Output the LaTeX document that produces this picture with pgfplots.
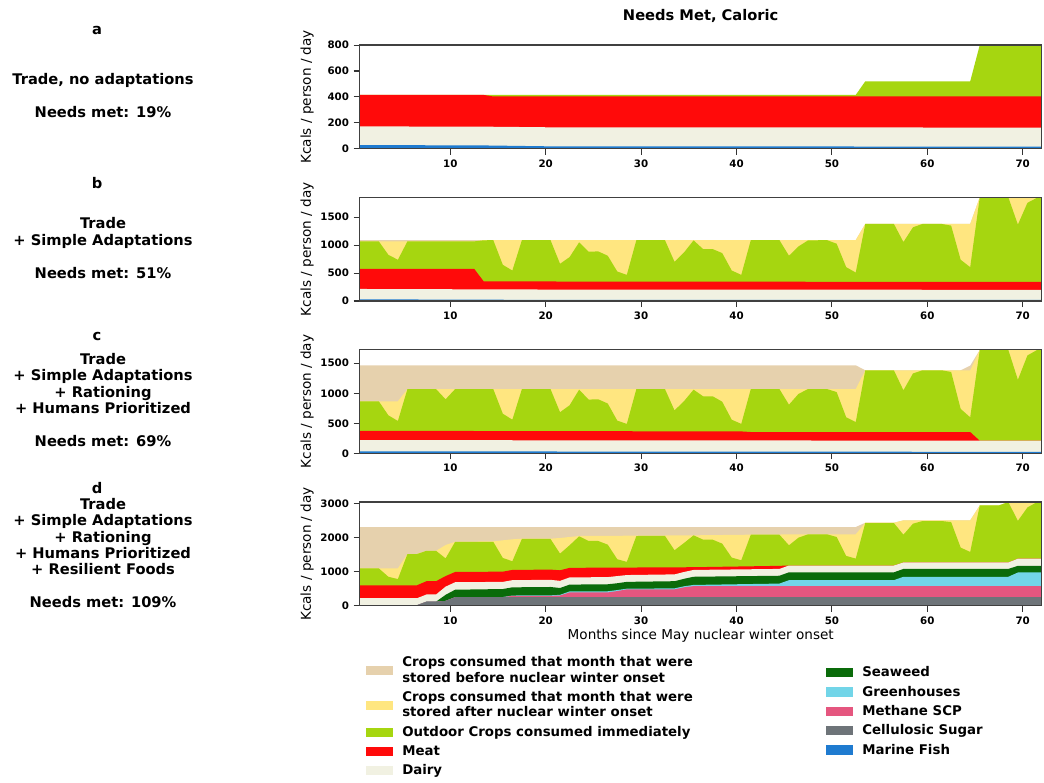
\documentclass[border=0pt]{standalone}
\usepackage{pgfplots}
\pgfplotsset{compat=1.18}
\usepackage{fontspec}
\setmainfont{DejaVu Sans}

\definecolor{before}{HTML}{E6D1AD}
\definecolor{after}{HTML}{FFE680}
\definecolor{outdoor}{HTML}{A6D610}
\definecolor{meat}{HTML}{FF0A0A}
\definecolor{dairy}{HTML}{F1F1E2}
\definecolor{seaweed}{HTML}{0A6B0A}
\definecolor{greenh}{HTML}{72D5E8}
\definecolor{scp}{HTML}{E5567F}
\definecolor{sugar}{HTML}{6E7479}
\definecolor{fish}{HTML}{1F7BD0}

\pgfplotsset{
  panel/.style={
    scale only axis, width=511.5pt, height=77.7pt,
    xmin=0.5, xmax=72, ymin=0,
    xtick={10,20,...,70},
    axis on top,
    axis line style={draw=black!75, line width=1pt},
    tick style={draw=black!80, line width=0.8pt},
    tick align=outside, major tick length=4.5pt,
    xtick pos=bottom, ytick pos=left,
    /pgf/number format/assume math mode=true,
    /pgf/number format/1000 sep={},
    tick label style={font=\bfseries\fontsize{7.7}{9}\selectfont},
    ylabel={Kcals / person / day},
    ylabel style={at={(axis description cs:-0.0773,0.5)}, anchor=center,
      font=\fontsize{10.2}{12}\selectfont},
  },
  layer/.style={fill=#1, draw=none},
  swatch/.style={legend image code/.code={\fill[##1, draw=none] (0pt,-3.4pt) rectangle (20pt,3.4pt);}},
  keybox/.style={
    hide axis, scale only axis, width=511.5pt, height=77.7pt,
    xmin=0, xmax=1, ymin=0, ymax=1,
    legend cell align=left,
    legend style={draw=none, fill=none, inner sep=0pt, row sep=3.4pt,
      font=\bfseries\fontsize{10}{11.6}\selectfont,
      nodes={inner sep=1pt, align=left},
      /tikz/every odd column/.append style={column sep=6pt}},
  },
}

\begin{document}
\begin{tikzpicture}
\useasboundingbox (0pt,0pt) rectangle (783pt,-586.5pt);

% ---------------- a: trade, no adaptations ----------------
\begin{axis}[panel, at={(269.8pt,-111.5pt)}, anchor=south west,
  ymax=800, ytick={0,200,400,600,800}]
\addplot[layer=outdoor] coordinates {(0.5,415)(52.5,415)(53.5,520)(64.5,520)(65.5,800)(72,800)} \closedcycle;
\addplot[layer=meat] coordinates {(0.5,415)(13.5,415)(14.5,403)(72,403)} \closedcycle;
\addplot[layer=dairy] coordinates {(0.5,172)(13.5,170)(20.5,165)(72,163)} \closedcycle;
\addplot[layer=fish] coordinates {(0.5,28)(13.5,25)(20.5,18)(72,16)} \closedcycle;
\end{axis}

% ---------------- b: + simple adaptations ----------------
\begin{axis}[panel, at={(269.8pt,-225.75pt)}, anchor=south west,
  ymax=1852, ytick={0,500,1000,1500}]
\addplot[layer=before] coordinates {(0.5,1090)(12.5,1090)(13.5,1090)(52.5,1090)(53.5,1378)(64.5,1378)(65.5,1852)(72,1852)} \closedcycle;
\addplot[layer=after] coordinates {(0.5,1066)(12.5,1066)(13.5,1088)(52.5,1088)(53.5,1378)(64.5,1378)(65.5,1852)(72,1852)} \closedcycle;
\addplot[layer=outdoor] coordinates {(0.5,1066)(2.5,1066)(3.5,826)(4.5,737)(5.5,1066)(12.5,1066)(13.5,1085)(14.5,1088)(15.5,647)(16.5,545)(17.5,1088)(20.5,1088)(21.5,665)(22.5,785)(23.5,1048)(24.5,881)(25.5,887)(26.5,809)(27.5,527)(28.5,467)(29.5,1088)(32.5,1088)(33.5,701)(34.5,869)(35.5,1084)(36.5,928)(37.5,928)(38.5,857)(39.5,545)(40.5,467)(41.5,1088)(44.5,1088)(45.5,809)(46.5,976)(47.5,1084)(49.5,1088)(50.5,1024)(51.5,605)(52.5,509)(53.5,1378)(56.5,1378)(57.5,1054)(58.5,1318)(59.5,1378)(61.5,1378)(62.5,1348)(63.5,737)(64.5,605)(65.5,1852)(68.5,1852)(69.5,1366)(70.5,1755)(71.5,1845)(72,1852)} \closedcycle;
\addplot[layer=meat] coordinates {(0.5,575)(12.5,575)(13.5,350)(72,340)} \closedcycle;
\addplot[layer=dairy] coordinates {(0.5,215)(20.5,205)(72,200)} \closedcycle;
\addplot[layer=fish] coordinates {(0.5,30)(20.5,20)(72,18)} \closedcycle;
\end{axis}

% ---------------- c: + rationing, humans prioritized ----------------
\begin{axis}[panel, at={(269.8pt,-340pt)}, anchor=south west,
  ymax=1725, ytick={0,500,1000,1500}]
\addplot[layer=before] coordinates {(0.5,1466)(52.5,1466)(53.5,1383)(63.5,1383)(64.5,1460)(65.5,1720)(72,1720)} \closedcycle;
\addplot[layer=after] coordinates {(0.5,867)(4.5,867)(5.5,1070)(52.5,1070)(53.5,1383)(64.5,1383)(65.5,1720)(72,1720)} \closedcycle;
\addplot[layer=outdoor] coordinates {(0.5,867)(2.5,867)(3.5,633)(4.5,539)(5.5,1070)(8.5,1070)(9.5,900)(10.5,1070)(14.5,1070)(15.5,660)(16.5,560)(17.5,1070)(20.5,1070)(21.5,685)(22.5,800)(23.5,1060)(24.5,895)(25.5,900)(26.5,830)(27.5,545)(28.5,490)(29.5,1070)(32.5,1070)(33.5,715)(34.5,870)(35.5,1060)(36.5,950)(37.5,950)(38.5,860)(39.5,560)(40.5,490)(41.5,1070)(44.5,1070)(45.5,810)(46.5,990)(47.5,1070)(49.5,1070)(50.5,1020)(51.5,600)(52.5,520)(53.5,1383)(56.5,1383)(57.5,1050)(58.5,1330)(59.5,1383)(61.5,1383)(62.5,1355)(63.5,740)(64.5,600)(65.5,1720)(68.5,1720)(69.5,1225)(70.5,1630)(71.5,1720)(72,1720)} \closedcycle;
\addplot[layer=meat] coordinates {(0.5,375)(40.5,365)(41.5,355)(64.5,355)(65.5,210)(72,210)} \closedcycle;
\addplot[layer=dairy] coordinates {(0.5,220)(40.5,215)(72,210)} \closedcycle;
\addplot[layer=fish] coordinates {(0.5,33)(72,25)} \closedcycle;
\end{axis}

% ---------------- d: + resilient foods ----------------
\begin{axis}[panel, at={(269.8pt,-454.3pt)}, anchor=south west,
  ymax=3038, ytick={0,1000,2000,3000},
  xlabel={Months since May nuclear winter onset},
  xlabel style={font=\fontsize{10.2}{12}\selectfont, at={(axis description cs:0.5,-0.29)}, anchor=center}]
\addplot[layer=before] coordinates {(0.5,2308)(52.5,2308)(53.5,2435)(56.5,2435)(57.5,2503)(64.5,2503)(65.5,2941)(67.5,2941)(68.5,3038)(72,3038)} \closedcycle;
\addplot[layer=after] coordinates {(0.5,1096)(4.5,1096)(5.5,1515)(6.5,1515)(7.5,1611)(8.5,1611)(9.5,1780)(10.5,1875)(14.5,1890)(15.5,1919)(16.5,1948)(17.5,1967)(20.5,1967)(21.5,1987)(22.5,2016)(23.5,2045)(35.5,2065)(41.5,2084)(47.5,2094)(52.5,2094)(53.5,2435)(56.5,2435)(57.5,2503)(64.5,2503)(65.5,2941)(67.5,2941)(68.5,3038)(72,3038)} \closedcycle;
\addplot[layer=outdoor] coordinates {(0.5,1096)(2.5,1096)(3.5,850)(4.5,782)(5.5,1515)(6.5,1515)(7.5,1611)(8.5,1611)(9.5,1389)(10.5,1875)(14.5,1875)(15.5,1402)(16.5,1305)(17.5,1958)(20.5,1958)(21.5,1529)(22.5,1773)(23.5,2036)(24.5,1899)(25.5,1899)(26.5,1792)(27.5,1364)(28.5,1286)(29.5,2045)(32.5,2050)(33.5,1627)(34.5,1841)(35.5,2065)(36.5,1938)(37.5,1938)(38.5,1821)(39.5,1412)(40.5,1334)(41.5,2084)(44.5,2084)(45.5,1773)(46.5,1997)(47.5,2094)(49.5,2094)(50.5,2016)(51.5,1461)(52.5,1383)(53.5,2425)(56.5,2425)(57.5,2084)(58.5,2406)(59.5,2484)(61.5,2484)(62.5,2454)(63.5,1705)(64.5,1578)(65.5,2941)(67.5,2941)(68.5,3038)(69.5,2490)(70.5,2883)(71.5,3038)(72,3038)} \closedcycle;
\addplot[layer=meat] coordinates {(0.5,600)(6.5,600)(7.5,720)(8.5,720)(9.5,870)(10.5,990)(15.5,1000)(16.5,1050)(20.5,1060)(21.5,1040)(22.5,1110)(26.5,1120)(28.5,1120)(35.5,1130)(44.5,1170)(45.5,1180)(56.5,1180)(57.5,1270)(68.5,1270)(69.5,1380)(72,1380)} \closedcycle;
\addplot[layer=dairy] coordinates {(0.5,220)(6.5,220)(7.5,330)(8.5,330)(9.5,560)(10.5,690)(15.5,700)(16.5,750)(20.5,760)(21.5,730)(22.5,830)(26.5,840)(27.5,870)(28.5,900)(33.5,920)(34.5,990)(35.5,1050)(44.5,1080)(45.5,1180)(56.5,1180)(57.5,1270)(68.5,1270)(69.5,1380)(72,1380)} \closedcycle;
\addplot[layer=seaweed] coordinates {(0.5,15)(6.5,15)(7.5,120)(8.5,120)(9.5,320)(10.5,470)(15.5,490)(16.5,540)(20.5,550)(21.5,520)(22.5,620)(26.5,630)(27.5,660)(28.5,700)(33.5,720)(34.5,790)(35.5,850)(44.5,880)(45.5,980)(56.5,980)(57.5,1080)(68.5,1080)(69.5,1170)(72,1170)} \closedcycle;
\addplot[layer=greenh] coordinates {(0.5,15)(6.5,15)(7.5,120)(8.5,120)(9.5,140)(10.5,250)(15.5,255)(16.5,300)(20.5,305)(21.5,320)(22.5,420)(26.5,425)(27.5,460)(28.5,500)(33.5,510)(34.5,570)(35.5,610)(44.5,650)(45.5,750)(56.5,750)(57.5,850)(68.5,850)(69.5,975)(72,975)} \closedcycle;
\addplot[layer=scp] coordinates {(0.5,15)(6.5,15)(7.5,120)(8.5,120)(9.5,140)(10.5,250)(15.5,250)(16.5,290)(20.5,290)(21.5,300)(22.5,390)(26.5,390)(27.5,430)(28.5,480)(33.5,480)(34.5,540)(35.5,575)(72,575)} \closedcycle;
\addplot[layer=sugar] coordinates {(0.5,15)(6.5,15)(7.5,120)(8.5,120)(9.5,140)(10.5,250)(72,250)} \closedcycle;
\addplot[layer=fish] coordinates {(0.5,15)(72,12)} \closedcycle;
\end{axis}

% ---------------- key, left column ----------------
\begin{axis}[keybox, at={(269.8pt,-454.3pt)}, anchor=south west,
  legend style={at={(axis description cs:0.0092,-0.475)}, anchor=north west}]
\addlegendimage{swatch, fill=before}
\addlegendentry{Crops consumed that month that were\\stored before nuclear winter onset}
\addlegendimage{swatch, fill=after}
\addlegendentry{Crops consumed that month that were\\stored after nuclear winter onset}
\addlegendimage{swatch, fill=outdoor}
\addlegendentry{Outdoor Crops consumed immediately}
\addlegendimage{swatch, fill=meat}
\addlegendentry{Meat}
\addlegendimage{swatch, fill=dairy}
\addlegendentry{Dairy}
\end{axis}

% ---------------- key, right column ----------------
\begin{axis}[keybox, at={(269.8pt,-454.3pt)}, anchor=south west,
  legend style={at={(axis description cs:0.6837,-0.572)}, anchor=north west}]
\addlegendimage{swatch, fill=seaweed}
\addlegendentry{Seaweed}
\addlegendimage{swatch, fill=greenh}
\addlegendentry{Greenhouses}
\addlegendimage{swatch, fill=scp}
\addlegendentry{Methane SCP}
\addlegendimage{swatch, fill=sugar}
\addlegendentry{Cellulosic Sugar}
\addlegendimage{swatch, fill=fish}
\addlegendentry{Marine Fish}
\end{axis}

% ---------------- titles and scenario descriptions ----------------
\begin{scope}[x=0.75pt, y=-0.75pt, every node/.style={font=\bfseries\fontsize{11}{13}\selectfont, inner sep=0pt}]
\node[anchor=base] at (700.7,20) {Needs Met, Caloric};
\node[anchor=base] at (97,34) {a};
\node[anchor=base] at (103,84) {Trade, no adaptations};
\node[anchor=base] at (103,117.5) {Needs met: 19\%};
\node[anchor=base] at (97,188) {b};
\node[anchor=base] at (103,228) {Trade};
\node[anchor=base] at (103,245) {+ Simple Adaptations};
\node[anchor=base] at (103,278) {Needs met: 51\%};
\node[anchor=base] at (97,340) {c};
\node[anchor=base] at (103,364) {Trade};
\node[anchor=base] at (103,380.5) {+ Simple Adaptations};
\node[anchor=base] at (103,397) {+ Rationing};
\node[anchor=base] at (103,413) {+ Humans Prioritized};
\node[anchor=base] at (103,446) {Needs met: 69\%};
\node[anchor=base] at (97,493) {d};
\node[anchor=base] at (103,509.5) {Trade};
\node[anchor=base] at (103,525.5) {+ Simple Adaptations};
\node[anchor=base] at (103,542) {+ Rationing};
\node[anchor=base] at (103,558) {+ Humans Prioritized};
\node[anchor=base] at (103,574.5) {+ Resilient Foods};
\node[anchor=base] at (103,607.5) {Needs met: 109\%};
\end{scope}
\end{tikzpicture}
\end{document}
